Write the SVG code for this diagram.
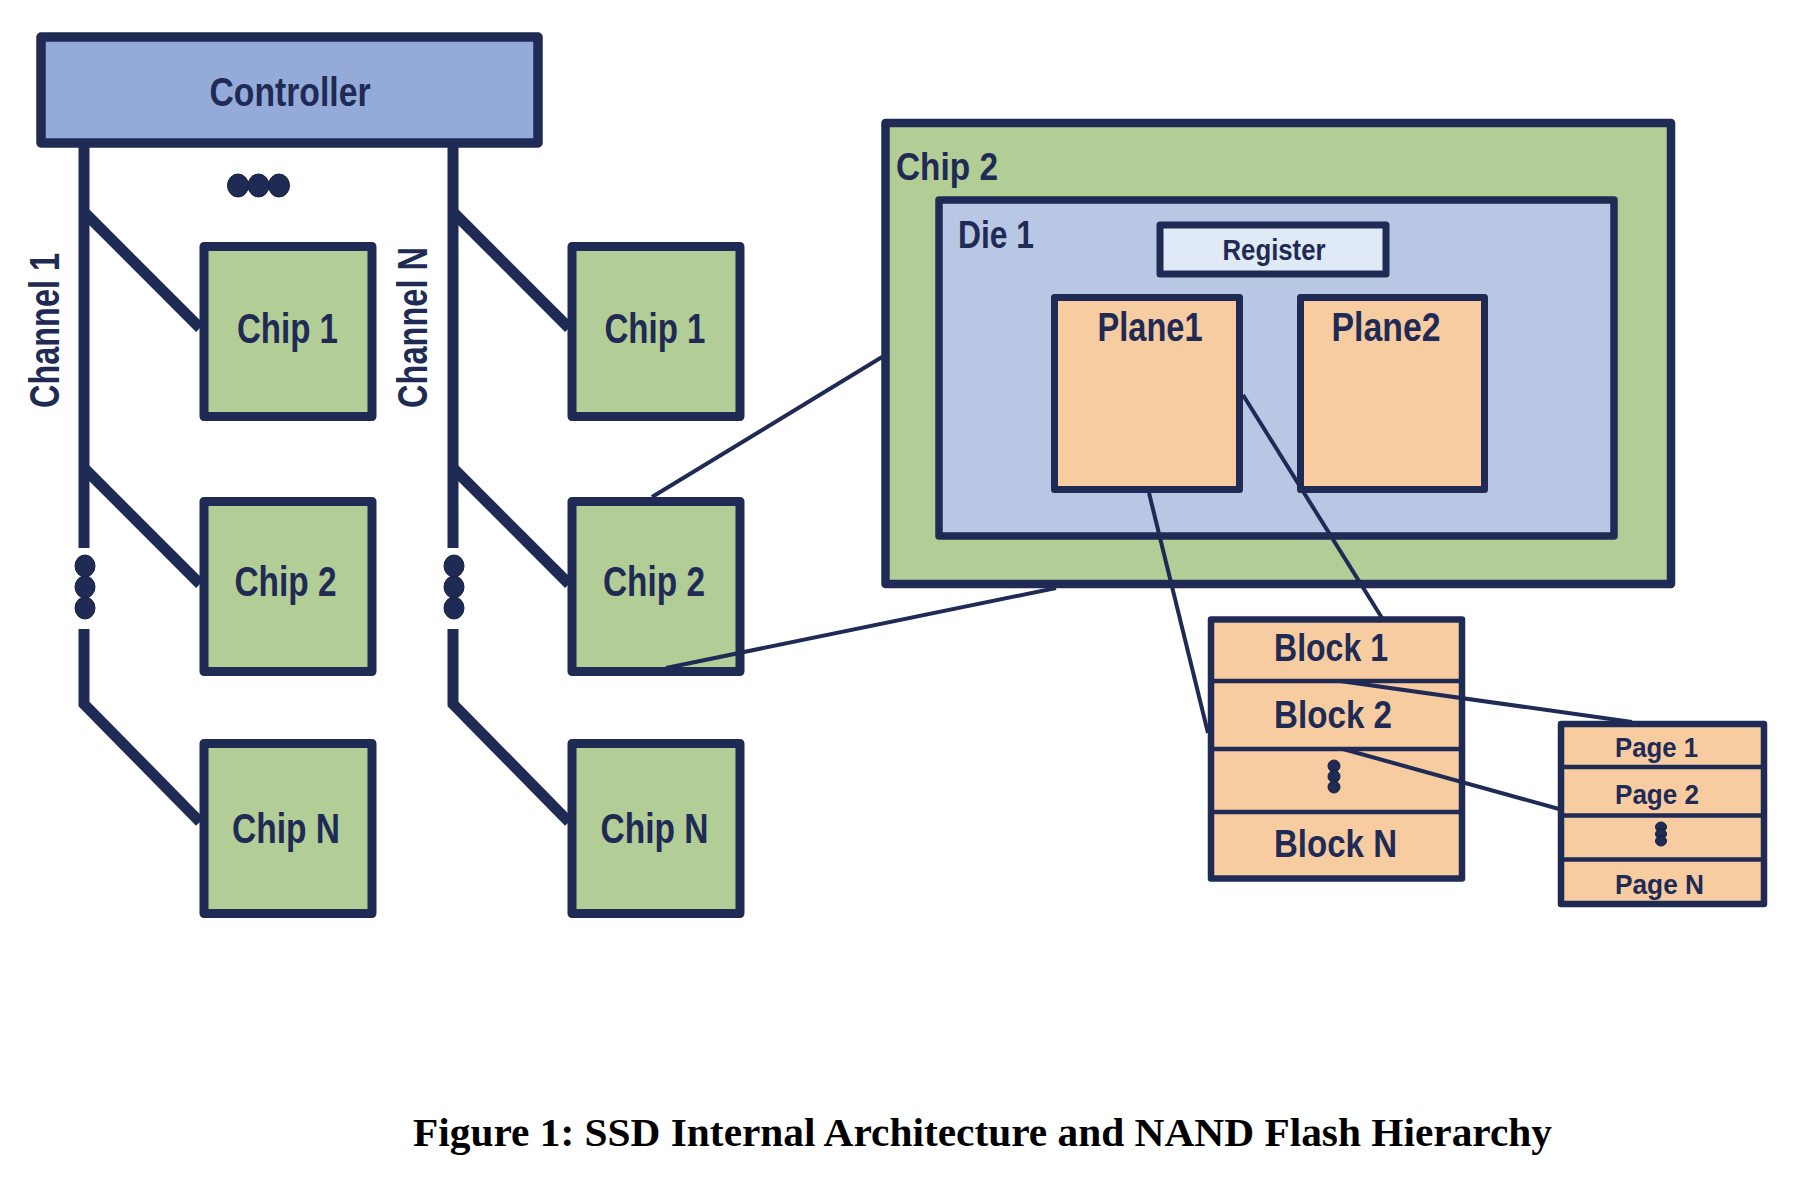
<svg xmlns="http://www.w3.org/2000/svg" width="1796" height="1182" viewBox="0 0 1796 1182">
<style>
.t{font-family:"Liberation Sans",Arial,sans-serif;font-weight:bold;fill:#1f2a55}
.box{stroke:#1f2a55;stroke-linejoin:round}
.green{fill:#b2cd95}
.peach{fill:#f6cca0}
.bus{stroke:#1f2a55;stroke-width:11;fill:none;stroke-linejoin:miter}
.thin{stroke:#1f2a55;stroke-width:4;fill:none}
.div{stroke:#1f2a55;stroke-width:4.5}
.dot{fill:#1f2a55;stroke:#16203f;stroke-width:1}
</style>
<rect width="1796" height="1182" fill="#ffffff"/>

<g id="bus-connectors">
  <path class="bus" d="M84,143 L84,548"/>
  <path class="bus" d="M84,212 L200,328"/>
  <path class="bus" d="M84,468 L200,584"/>
  <path class="bus" d="M84,629 L84,704 L200,822"/>
  <path class="bus" d="M453,143 L453,548"/>
  <path class="bus" d="M453,212 L569,328"/>
  <path class="bus" d="M453,468 L569,584"/>
  <path class="bus" d="M453,629 L453,704 L569,822"/>
</g>

<g id="controller">
  <rect class="box" x="41" y="37" width="497" height="106" fill="#94abd9" stroke-width="9.5"/>
  <text class="t" x="290" y="106" font-size="40" text-anchor="middle" textLength="161" lengthAdjust="spacingAndGlyphs">Controller</text>
</g>

<g id="channel-dots">
  <ellipse class="dot" cx="238" cy="185.5" rx="10.5" ry="11.5"/>
  <ellipse class="dot" cx="258.5" cy="185.5" rx="10.5" ry="11.5"/>
  <ellipse class="dot" cx="279" cy="185.5" rx="10.5" ry="11.5"/>
  <ellipse class="dot" cx="85" cy="566" rx="10" ry="11"/>
  <ellipse class="dot" cx="85" cy="587" rx="10" ry="11"/>
  <ellipse class="dot" cx="85" cy="608" rx="10" ry="11"/>
  <ellipse class="dot" cx="454" cy="566" rx="10" ry="11"/>
  <ellipse class="dot" cx="454" cy="587" rx="10" ry="11"/>
  <ellipse class="dot" cx="454" cy="608" rx="10" ry="11"/>
</g>

<g id="channel1-label">
  <text class="t" transform="translate(59,330.5) rotate(-90)" font-size="43" text-anchor="middle" textLength="155" lengthAdjust="spacingAndGlyphs">Channel 1</text>
</g>
<g id="channelN-label">
  <text class="t" transform="translate(427,327.5) rotate(-90)" font-size="43" text-anchor="middle" textLength="161" lengthAdjust="spacingAndGlyphs">Channel N</text>
</g>

<g id="c1-chip1">
  <rect class="box green" x="204" y="246.5" width="168" height="170" stroke-width="9"/>
  <text class="t" x="287.5" y="343" font-size="42" text-anchor="middle" textLength="101" lengthAdjust="spacingAndGlyphs">Chip 1</text>
</g>
<g id="c1-chip2">
  <rect class="box green" x="204" y="501.5" width="168" height="170" stroke-width="9"/>
  <text class="t" x="285.5" y="596" font-size="42" text-anchor="middle" textLength="102" lengthAdjust="spacingAndGlyphs">Chip 2</text>
</g>
<g id="c1-chipN">
  <rect class="box green" x="204" y="743.5" width="168" height="170" stroke-width="9"/>
  <text class="t" x="286" y="843" font-size="42" text-anchor="middle" textLength="108" lengthAdjust="spacingAndGlyphs">Chip N</text>
</g>
<g id="cN-chip1">
  <rect class="box green" x="572" y="246.5" width="168" height="170" stroke-width="9"/>
  <text class="t" x="655" y="343" font-size="42" text-anchor="middle" textLength="101" lengthAdjust="spacingAndGlyphs">Chip 1</text>
</g>
<g id="cN-chip2">
  <rect class="box green" x="572" y="501.5" width="168" height="170" stroke-width="9"/>
  <text class="t" x="654" y="596" font-size="42" text-anchor="middle" textLength="102" lengthAdjust="spacingAndGlyphs">Chip 2</text>
</g>
<g id="cN-chipN">
  <rect class="box green" x="572" y="743.5" width="168" height="170" stroke-width="9"/>
  <text class="t" x="654.5" y="843" font-size="42" text-anchor="middle" textLength="108" lengthAdjust="spacingAndGlyphs">Chip N</text>
</g>

<g id="chip2-detail">
  <rect class="box green" x="885.5" y="123" width="785.5" height="461" stroke-width="8.5"/>
  <text class="t" x="896" y="180" font-size="38" textLength="102" lengthAdjust="spacingAndGlyphs">Chip 2</text>
</g>
<g id="die1">
  <rect class="box" x="939" y="200" width="675" height="336" fill="#b8c7e3" stroke-width="7.5"/>
  <text class="t" x="958" y="248" font-size="38" textLength="76" lengthAdjust="spacingAndGlyphs">Die 1</text>
</g>
<g id="register">
  <rect class="box" x="1160" y="225" width="226" height="49" fill="#e0eaf6" stroke-width="7"/>
  <text class="t" x="1274" y="260" font-size="30" text-anchor="middle" textLength="103" lengthAdjust="spacingAndGlyphs">Register</text>
</g>
<g id="plane1">
  <rect class="box peach" x="1054.5" y="297.5" width="185" height="192" stroke-width="7"/>
  <text class="t" x="1150" y="341" font-size="40" text-anchor="middle" textLength="105" lengthAdjust="spacingAndGlyphs">Plane1</text>
</g>
<g id="plane2">
  <rect class="box peach" x="1300.5" y="297.5" width="184" height="192" stroke-width="7"/>
  <text class="t" x="1386" y="341" font-size="40" text-anchor="middle" textLength="109" lengthAdjust="spacingAndGlyphs">Plane2</text>
</g>

<g id="blocks">
  <rect class="box peach" x="1211" y="619.5" width="251" height="259" stroke-width="6.5"/>
  <line class="div" x1="1211" y1="681" x2="1462" y2="681"/>
  <line class="div" x1="1211" y1="749" x2="1462" y2="749"/>
  <line class="div" x1="1211" y1="812" x2="1462" y2="812"/>
  <text class="t" x="1331" y="661" font-size="39" text-anchor="middle" textLength="114" lengthAdjust="spacingAndGlyphs">Block 1</text>
  <text class="t" x="1333" y="728" font-size="39" text-anchor="middle" textLength="118" lengthAdjust="spacingAndGlyphs">Block 2</text>
  <ellipse class="dot" cx="1334" cy="766" rx="6" ry="6"/>
  <ellipse class="dot" cx="1334" cy="776.5" rx="6" ry="6"/>
  <ellipse class="dot" cx="1334" cy="787" rx="6" ry="6"/>
  <text class="t" x="1335.5" y="857" font-size="39" text-anchor="middle" textLength="123" lengthAdjust="spacingAndGlyphs">Block N</text>
</g>

<g id="pages">
  <rect class="box peach" x="1561" y="724" width="203" height="180" stroke-width="6.5"/>
  <line class="div" x1="1561" y1="767" x2="1764" y2="767"/>
  <line class="div" x1="1561" y1="815.5" x2="1764" y2="815.5"/>
  <line class="div" x1="1561" y1="859.5" x2="1764" y2="859.5"/>
  <text class="t" x="1656.5" y="757" font-size="28" text-anchor="middle" textLength="83" lengthAdjust="spacingAndGlyphs">Page 1</text>
  <text class="t" x="1657" y="804" font-size="28" text-anchor="middle" textLength="84" lengthAdjust="spacingAndGlyphs">Page 2</text>
  <ellipse class="dot" cx="1661" cy="827" rx="5.5" ry="5"/>
  <ellipse class="dot" cx="1661" cy="834" rx="5.5" ry="5"/>
  <ellipse class="dot" cx="1661" cy="841" rx="5.5" ry="5"/>
  <text class="t" x="1659.5" y="894" font-size="28" text-anchor="middle" textLength="89" lengthAdjust="spacingAndGlyphs">Page N</text>
</g>

<g id="connectors">
  <line class="thin" x1="652" y1="497" x2="882" y2="357"/>
  <line class="thin" x1="666" y1="668" x2="1056" y2="588"/>
  <line class="thin" x1="1149" y1="493" x2="1208" y2="733"/>
  <line class="thin" x1="1243" y1="395" x2="1382" y2="618"/>
  <line class="thin" x1="1340" y1="681" x2="1632" y2="722"/>
  <line class="thin" x1="1343" y1="749" x2="1559" y2="809"/>
</g>

<g id="caption">
  <text x="413" y="1146" font-family="'Liberation Serif','Times New Roman',serif" font-weight="bold" font-size="39" fill="#000000" textLength="1139" lengthAdjust="spacingAndGlyphs">Figure 1: SSD Internal Architecture and NAND Flash Hierarchy</text>
</g>
</svg>
